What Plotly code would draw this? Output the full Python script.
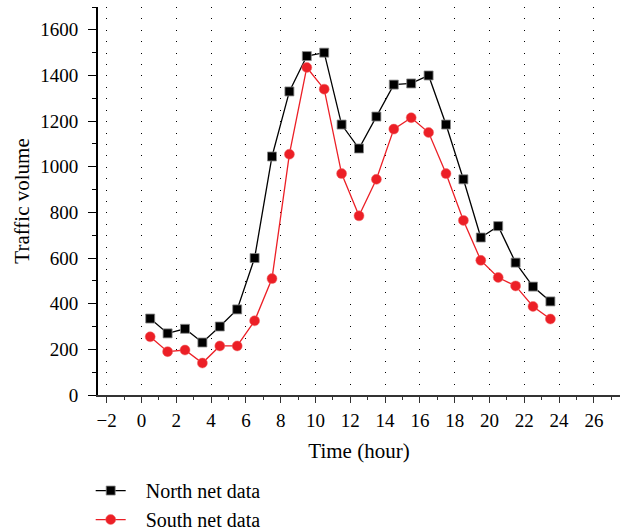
import plotly.graph_objects as go

hours = [0.5, 1.5, 2.5, 3.5, 4.5, 5.5, 6.5, 7.5, 8.5, 9.5, 10.5, 11.5,
         12.5, 13.5, 14.5, 15.5, 16.5, 17.5, 18.5, 19.5, 20.5, 21.5, 22.5, 23.5]
north = [335, 270, 290, 230, 300, 375, 600, 1045, 1330, 1485, 1500, 1185,
         1080, 1220, 1360, 1365, 1400, 1185, 945, 690, 740, 580, 475, 410]
south = [255, 190, 197, 140, 215, 215, 325, 510, 1055, 1435, 1340, 970,
         785, 945, 1165, 1215, 1150, 970, 765, 590, 515, 478, 388, 333]

x_ticks = [-2, 0, 2, 4, 6, 8, 10, 12, 14, 16, 18, 20, 22, 24, 26]
y_ticks = [0, 200, 400, 600, 800, 1000, 1200, 1400, 1600]

FONT = "Liberation Serif"
RED = "#ec1f26"
PAD = "\u00a0\u00a0\u00a0"

fig = go.Figure()
fig.add_trace(go.Scatter(
    x=hours, y=north, mode="lines+markers", name=PAD + "North net data",
    line=dict(color="black", width=1.3),
    marker=dict(symbol="square", size=9, color="black",
                line=dict(color="#8a8a8a", width=0.8)),
))
fig.add_trace(go.Scatter(
    x=hours, y=south, mode="lines+markers", name=PAD + "South net data",
    line=dict(color=RED, width=1.3),
    marker=dict(symbol="circle", size=10, color=RED,
                line=dict(color="#f06a6a", width=0.5)),
))

fig.update_layout(
    width=624, height=530,
    margin=dict(l=98, r=4, t=7, b=135, autoexpand=False),
    plot_bgcolor="white", paper_bgcolor="white",
    font=dict(family=FONT, size=19, color="black"),
    showlegend=True,
    legend=dict(x=-0.014, y=-0.196, xanchor="left", yanchor="top",
                orientation="v", bgcolor="rgba(0,0,0,0)",
                font=dict(family=FONT, size=20), tracegroupgap=0,
                itemwidth=30),
)
fig.update_xaxes(
    range=[-2.5, 27.5], tickvals=x_ticks, ticktext=[str(v).replace("-", "\u2212") for v in x_ticks],
    ticks="outside", ticklen=6, tickwidth=1.3, tickcolor="#333",
    ticklabelstandoff=1, automargin=False,
    minor=dict(dtick=1, tick0=0, ticks="outside", ticklen=3.5, tickwidth=1.2, tickcolor="#333", showgrid=False),
    showline=True, linecolor="#333", linewidth=1.6,
    showgrid=True, gridcolor="black", gridwidth=1, griddash="1px,10.41px",
    zeroline=False, mirror=False,
    title=dict(text="Time (hour)", font=dict(family=FONT, size=21), standoff=14),
    tickfont=dict(family=FONT, size=19),
)
fig.update_yaxes(
    range=[0, 1700], tickvals=y_ticks,
    ticks="outside", ticklen=8, tickwidth=1.3, tickcolor="black",
    ticklabelstandoff=6, automargin=False,
    minor=dict(dtick=100, tick0=0, ticks="outside", ticklen=4, tickwidth=1.2, tickcolor="black", showgrid=False),
    showline=True, linecolor="black", linewidth=1.8,
    showgrid=False, zeroline=False,
    title=dict(text="Traffic volume", font=dict(family=FONT, size=21), standoff=5),
    tickfont=dict(family=FONT, size=19),
)

fig.write_html("out.html", config={"displayModeBar": False},
               post_script="document.body.style.margin='0';")
